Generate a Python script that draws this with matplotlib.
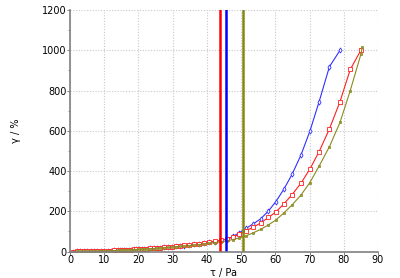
import matplotlib
matplotlib.use("Agg")
import matplotlib.pyplot as plt

# shear stress (Pa), common ramp grid
tau = [1.0, 2.0, 3.0, 4.0, 5.0, 6.0, 7.0, 8.0, 9.0, 10.0, 11.0, 12.0, 13.0,
       14.1, 14.7, 15.3, 15.9, 16.5, 17.2, 17.8, 18.6, 19.3, 20.1, 20.9, 21.7,
       22.6, 23.5, 24.4, 25.4, 26.4, 27.5, 28.6, 29.7, 30.9, 32.1, 33.4, 34.8,
       36.2, 37.6, 39.1, 40.7, 42.3, 44.0, 45.8, 47.6, 49.5, 51.4, 53.5, 55.8,
       58.0, 60.1, 62.5, 64.9, 67.5, 70.1, 72.8, 75.8, 78.9, 81.9, 85.0]

# strain (%)
strain_red = [0.3, 0.6, 0.9, 1.2, 1.6, 2.0, 2.4, 2.9, 3.4, 4.0, 4.6, 5.3, 6.0,
              6.9, 7.4, 7.9, 8.4, 9.0, 9.6, 10.2, 11.0, 11.7, 12.5, 13.4, 14.3,
              15.3, 16.4, 17.5, 18.8, 20.1, 21.6, 23.2, 24.8, 26.7, 28.7, 31.0, 33.6,
              36.4, 39.4, 42.8, 46.6, 51.0, 56.0, 62.0, 72.0, 86.0, 103.0, 121.0, 143.0,
              170.0, 196.0, 237.0, 283.0, 340.0, 410.0, 497.0, 609.0, 745.0, 905.0, 1000.0]

strain_blue = [0.3, 0.6, 0.9, 1.2, 1.5, 1.9, 2.3, 2.8, 3.3, 3.9, 4.5, 5.1, 5.8,
               6.7, 7.2, 7.7, 8.2, 8.7, 9.3, 9.9, 10.7, 11.4, 12.1, 13.0, 13.9,
               14.8, 15.9, 17.0, 18.2, 19.5, 21.0, 22.5, 24.1, 25.9, 27.8, 30.1, 32.6,
               35.3, 38.2, 41.5, 45.2, 49.5, 55.0, 62.0, 75.0, 94.0, 115.0, 137.0, 164.0,
               202.0, 247.0, 310.0, 384.0, 480.0, 598.0, 745.0, 918.0, 1000.0]

strain_olive = [0.3, 0.5, 0.8, 1.1, 1.4, 1.7, 2.1, 2.5, 3.0, 3.5, 4.0, 4.6, 5.2,
                6.0, 6.4, 6.8, 7.3, 7.8, 8.3, 8.8, 9.5, 10.1, 10.8, 11.6, 12.4,
                13.3, 14.3, 15.3, 16.4, 17.6, 19.0, 20.4, 21.9, 23.6, 25.4, 27.5, 29.8,
                32.3, 35.0, 38.0, 41.3, 44.8, 48.5, 53.0, 60.0, 68.0, 78.0, 93.0, 111.0,
                133.0, 156.0, 192.0, 232.0, 281.0, 343.0, 425.0, 521.0, 642.0, 800.0, 980.0, 1016.0]
tau_olive = tau + [85.4]

# yield stress markers (Pa)
yield_red = 43.7
yield_blue = 45.5
yield_olive = 50.6

RED = "#ff2020"
BLUE = "#3030ff"
OLIVE = "#8a8a20"

fig = plt.figure(figsize=(4.0, 2.78), dpi=100)
ax = fig.add_axes([0.175, 0.095, 0.77, 0.869])

ax.plot(tau[:len(strain_blue)], strain_blue, color=BLUE, lw=0.8,
        marker="d", ms=2.6, mfc="white", mec=BLUE, mew=0.6)
ax.plot(tau, strain_red, color=RED, lw=0.8,
        marker="s", ms=2.4, mfc="white", mec=RED, mew=0.6)
ax.plot(tau_olive, strain_olive, color=OLIVE, lw=0.8,
        marker="s", ms=2.0, mfc="#9a9a40", mec=OLIVE, mew=0.5)

ax.axvline(yield_red, color="#ff0000", lw=1.8)
ax.axvline(yield_blue, color="#0000ff", lw=1.8)
ax.axvline(yield_olive, color="#878710", lw=1.8)

ax.set_xlim(0, 90)
ax.set_ylim(0, 1200)
ax.set_xticks(range(0, 91, 10))
ax.set_yticks(range(0, 1201, 200))
ax.set_yticks(range(0, 1201, 100), minor=True)

ax.grid(True, which="major", color="#c8c8c8", linestyle=(0, (1, 1.5)), lw=0.8)
for s in ["top", "right"]:
    ax.spines[s].set_visible(False)
for s in ["left", "bottom"]:
    ax.spines[s].set_color("#808080")
    ax.spines[s].set_linewidth(1.2)

ax.tick_params(axis="both", labelsize=7, length=2, width=0.7, color="#808080", pad=0.5)
ax.tick_params(axis="y", which="minor", length=1.5, width=0.6, color="#808080")

ax.set_xlabel("τ / Pa", fontsize=7, labelpad=2)
ax.set_ylabel("γ / %", fontsize=7)
ax.yaxis.set_label_coords(-0.16, 0.5)

fig.savefig("out.png", dpi=100)
